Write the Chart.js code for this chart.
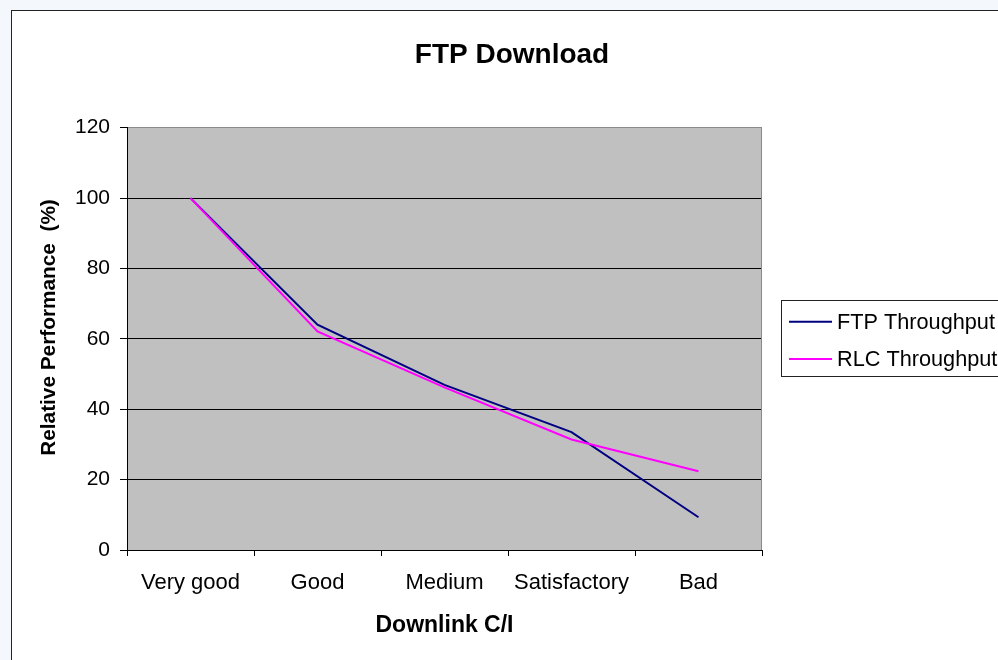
<!DOCTYPE html>
<html><head><meta charset="utf-8">
<script src="https://cdn.jsdelivr.net/npm/chart.js@4.4.0/dist/chart.umd.min.js"></script>
<style>
html,body{margin:0;padding:0;background:#f4f8fd;overflow:hidden;}
#frame{position:absolute;left:11px;top:10px;width:1000px;height:700px;border:1px solid #222;background:#fff;}
#wrap{position:absolute;left:0;top:0;width:998px;height:660px;}
</style></head><body>
<div id="frame"></div>
<div id="wrap"><canvas id="c" width="998" height="660"></canvas></div>
<script>
const chartTitle = 'FTP Download';
const xTitle = 'Downlink C/I';
const yTitle = 'Relative Performance  (%)';
const categories = ['Very good', 'Good', 'Medium', 'Satisfactory', 'Bad'];
const ftpThroughput = [100, 64.0, 46.9, 33.5, 9.3];
const rlcThroughput = [100, 62.1, 46.2, 31.4, 22.4];
const yTicks = [0, 20, 40, 60, 80, 100, 120];

const FONT = "'Liberation Sans', Arial, sans-serif";

const deco = {
  id: 'deco',
  beforeDraw(chart) {
    const {ctx, chartArea: a} = chart;
    ctx.save();
    ctx.fillStyle = '#c0c0c0';
    ctx.fillRect(a.left, a.top, a.right - a.left, a.bottom - a.top);
    ctx.restore();
  },
  beforeDatasetsDraw(chart) {
    const {ctx, chartArea: a} = chart;
    ctx.save();
    ctx.strokeStyle = '#8a8a8a';
    ctx.lineWidth = 1;
    ctx.beginPath();
    ctx.moveTo(Math.round(a.right) - 0.5, Math.round(a.top));
    ctx.lineTo(Math.round(a.right) - 0.5, Math.round(a.bottom));
    ctx.stroke();
    ctx.restore();
  },
  afterDraw(chart) {
    const {ctx} = chart;
    ctx.save();
    // title
    ctx.fillStyle = '#000';
    ctx.font = 'bold 28px ' + FONT;
    ctx.textAlign = 'center';
    ctx.textBaseline = 'alphabetic';
    ctx.fillText(chartTitle, 512, 63);
    // y axis title
    ctx.save();
    ctx.translate(49, 327.5);
    ctx.rotate(-Math.PI / 2);
    ctx.font = 'bold 20.8px ' + FONT;
    ctx.textAlign = 'center';
    ctx.textBaseline = 'middle';
    ctx.fillText(yTitle, 0, 0);
    ctx.restore();
    // legend
    ctx.strokeStyle = '#222';
    ctx.lineWidth = 1;
    ctx.strokeRect(781.5, 300.5, 260, 76);
    ctx.font = '21.7px ' + FONT;
    ctx.textAlign = 'left';
    ctx.textBaseline = 'middle';
    chart.data.datasets.forEach((ds, i) => {
      const y = 321.7 + i * 37.3;
      ctx.strokeStyle = ds.borderColor;
      ctx.lineWidth = 2;
      ctx.beginPath();
      ctx.moveTo(789, y);
      ctx.lineTo(832, y);
      ctx.stroke();
      ctx.fillStyle = '#000';
      ctx.fillText(ds.label, 837, y + 1);
    });
    ctx.restore();
  }
};

new Chart(document.getElementById('c'), {
  type: 'line',
  data: {
    labels: categories,
    datasets: [
      {label: 'FTP Throughput', data: ftpThroughput, borderColor: '#000080', backgroundColor: '#000080', borderWidth: 2, pointRadius: 0, tension: 0, fill: false, order: 2},
      {label: 'RLC Throughput', data: rlcThroughput, borderColor: '#ff00ff', backgroundColor: '#ff00ff', borderWidth: 2, pointRadius: 0, tension: 0, fill: false, order: 1}
    ]
  },
  options: {
    responsive: false,
    animation: false,
    devicePixelRatio: 1,
    layout: {padding: {left: 0, top: 127.7, right: 236, bottom: 0}},
    plugins: {legend: {display: false}, title: {display: false}, tooltip: {enabled: false}},
    scales: {
      x: {
        type: 'category',
        offset: true,
        grid: {offset: true, drawOnChartArea: false, drawTicks: true, tickLength: 6, color: '#000', tickColor: '#000'},
        border: {color: '#000', width: 1},
        ticks: {color: '#000', font: {family: FONT, size: 22}, padding: 14, maxRotation: 0, autoSkip: false},
        title: {display: true, text: xTitle, color: '#000', font: {family: FONT, size: 23, weight: 'bold'}, padding: {top: 0, bottom: 21}},
        afterFit(scale) { scale.height = 110; }
      },
      y: {
        min: 0, max: 120,
        afterBuildTicks(scale) { scale.ticks = yTicks.map(v => ({value: v})); },
        grid: {
          color: (c) => (c.tick && c.tick.value === 120) ? '#8a8a8a' : '#000',
          tickColor: '#000', tickLength: 7, lineWidth: 1
        },
        border: {color: '#000', width: 1},
        ticks: {color: '#000', font: {family: FONT, size: 21}, padding: 10},
        title: {display: false},
        afterFit(scale) { scale.width = 127; }
      }
    }
  },
  plugins: [deco]
});
</script>
</body></html>
